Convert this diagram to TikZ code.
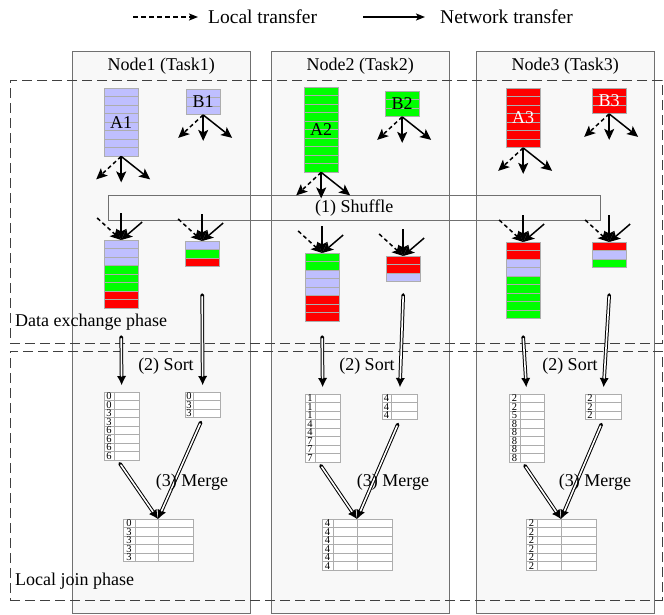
\documentclass[tikz,border=0pt]{standalone}
\usepackage{fontspec}
\setmainfont{Liberation Serif}
\usetikzlibrary{arrows.meta, positioning, calc}
\definecolor{lav}{HTML}{BFBFFF}
\definecolor{grn}{HTML}{00FF00}
\definecolor{rd}{HTML}{FF0000}
\definecolor{colbg}{HTML}{F8F8F8}
\definecolor{colline}{HTML}{707070}
\definecolor{cellline}{HTML}{ADADAD}
\newcommand\cellstack[5]{%
  \foreach \col [count=\i from 0] in {#5}
    \draw[cell, fill=\col] (#2,#3+8.5*\i) rectangle ++(34,8.5);
  \node[stackbox, minimum height=#4*8.5pt, anchor=north west] (#1) at (#2,#3) {};}
\newcommand\keytable[7]{%
  \foreach \kv [count=\i from 0] in {#7} {
    \draw[cell, fill=white] (#2,#3+8.5*\i) rectangle ++(#5,8.5);
    \draw[cell] (#2+#4,#3+8.5*\i) -- ++(0,8.5);
    \node[keytext] (#1-k\i) at (#2+#4/2,#3+8.5*\i+4.25) {\kv};}
  \node[stackbox, minimum width=#5pt, minimum height=#6*8.5pt, anchor=north west] (#1) at (#2,#3) {};}
\begin{document}
\begin{tikzpicture}[x=1pt, y=-1pt, >={Stealth[length=11pt, width=10pt, inset=2.5pt]},
  column/.style={draw=colline, fill=colbg, inner sep=0, anchor=north west, minimum width=178pt, minimum height=562pt},
  phase/.style={draw=black!75, dash pattern=on 10pt off 5pt, inner sep=0, anchor=north west, minimum width=652pt},
  txt/.style={font=\fontsize{18}{20}\selectfont, inner sep=0},
  legtxt/.style={font=\fontsize{19.5}{22}\selectfont, inner sep=0, anchor=west},
  cell/.style={draw=cellline, line width=0.6pt},
  stackbox/.style={inner sep=0, minimum width=34pt},
  keytext/.style={font=\fontsize{10.5}{10.5}\selectfont, inner sep=0},
  move/.style={->, line width=1.5pt},
  local/.style={move, dash pattern=on 4pt off 3pt},
  legarrow/.style={-{Stealth[length=9pt, width=7pt, inset=2pt]}, line width=1.4pt},
  dbl/.style 2 args={-{Latex[length=9pt, width=9pt, line width=0pt]}, line width=3.6pt, line cap=round,
    shorten <=#1, shorten >=#2, postaction={draw=white, line width=1.6pt, -, shorten <=#1+1.6pt, shorten >=#2+9pt}},
  shufflebox/.style={draw=colline, inner sep=0, anchor=north west, minimum width=492pt, minimum height=25pt, font=\fontsize{18}{20}\selectfont}]
\useasboundingbox (0,0) rectangle (664,615);
\node[legtxt] (loclabel) at (208,17) {Local transfer};
\node[legtxt] (netlabel) at (440,17) {Network transfer};
\draw[legarrow, dash pattern=on 4.5pt off 3.5pt] ([xshift=-75pt]loclabel.west) -- ([xshift=-10pt]loclabel.west);
\draw[legarrow] ([xshift=-77pt]netlabel.west) -- ([xshift=-15pt]netlabel.west);
\node[column] (col1) at (72,51) {};
\node[column] (col2) at (271,51) {};
\node[column] (col3) at (476,51) {};
\node[txt] (title1) at ($(col1.north)+(0,15)$) {Node1 (Task1)};
\node[txt] (title2) at ($(col2.north)+(0,15)$) {Node2 (Task2)};
\node[txt] (title3) at ($(col3.north)+(0,15)$) {Node3 (Task3)};
\node[shufflebox] (shuffle) at (108,195) {(1) Shuffle};
\node[phase, minimum height=263pt] (exchange) at (10,80) {};
\node[phase, minimum height=249pt] (localjoin) at (10,351) {};
\node[txt, anchor=south west] (exchlabel) at ($(exchange.south west)+(5,-13)$) {Data exchange phase};
\node[txt, anchor=south west] (joinlabel) at ($(localjoin.south west)+(5,-11)$) {Local join phase};
\cellstack{a1}{104}{88}{8}{lav,lav,lav,lav,lav,lav,lav,lav}
\cellstack{b1}{186}{89}{3}{lav,lav,lav}
\cellstack{a2}{304}{87}{10}{grn,grn,grn,grn,grn,grn,grn,grn,grn,grn}
\cellstack{b2}{385}{91}{3}{grn,grn,grn}
\cellstack{a3}{506}{88}{7}{rd,rd,rd,rd,rd,rd,rd}
\cellstack{b3}{592}{88}{3}{rd,rd,rd}
\node[txt] (a1text) at (a1) {A1};
\node[txt] (b1text) at (b1) {B1};
\node[txt] (a2text) at (a2) {A2};
\node[txt] (b2text) at (b2) {B2};
\node[txt, white] (a3text) at (a3) {A3};
\node[txt, white] (b3text) at (b3) {B3};
\foreach \n in {a1,b1,a2,b2,a3,b3} {
  \draw[local] (\n.south) -- ++(-25,23);
  \draw[move] (\n.south) -- ++(0,26);
  \draw[move] (\n.south) -- ++(29,23);}
\cellstack{s1a}{104}{240}{8}{lav,lav,lav,grn,grn,grn,rd,rd}
\cellstack{s1b}{185}{241}{3}{lav,grn,rd}
\cellstack{s2a}{305}{253}{8}{grn,grn,lav,lav,lav,rd,rd,rd}
\cellstack{s2b}{386}{256}{3}{rd,rd,lav}
\cellstack{s3a}{506}{242}{9}{rd,rd,lav,lav,grn,grn,grn,grn,grn}
\cellstack{s3b}{592}{242}{3}{rd,lav,grn}
\foreach \n in {s1a,s1b,s2a,s2b,s3a,s3b} {
  \draw[local] ([shift={(-24,-22)}]\n.north) -- (\n.north);
  \draw[move] ([shift={(0,-27)}]\n.north) -- (\n.north);
  \draw[move] ([shift={(21,-18)}]\n.north) -- (\n.north);}
\keytable{t1a}{104}{392}{10}{35}{8}{0,0,3,3,6,6,6,6}
\keytable{t1b}{185}{392}{8}{35}{3}{0,3,3}
\keytable{t2a}{305}{394}{10}{35}{8}{1,1,1,4,4,7,7,7}
\keytable{t2b}{382}{394}{9}{35}{3}{4,4,4}
\keytable{t3a}{509}{394}{11}{35}{8}{2,2,5,8,8,8,8,8}
\keytable{t3b}{585}{394}{10}{36}{3}{2,2,2}
\keytable{m1}{123}{519}{12}{70}{5}{0,3,3,3,3}
\keytable{m2}{322}{519}{11}{70}{6}{4,4,4,4,4,4}
\keytable{m3}{526}{519}{11}{70}{6}{2,2,2,2,2,2}
\foreach \m in {m1,m2,m3}
  \draw[cell] ([xshift=35pt]\m.north west) -- ([xshift=35pt]\m.south west);
\coordinate (sortstart) at (0,337);
\coordinate (sortstartb) at (0,295);
\draw[dbl={0pt}{7pt}] (s1a.south |- sortstart) -- (t1a.north);
\draw[dbl={0pt}{7pt}] (s1b.south |- sortstartb) -- (t1b.north);
\draw[dbl={0pt}{7pt}] (s2a.south |- sortstart) -- (t2a.north);
\draw[dbl={0pt}{7pt}] (s2b.south |- sortstartb) -- (t2b.north);
\draw[dbl={0pt}{7pt}] (s3a.south |- sortstart) -- (t3a.north);
\draw[dbl={0pt}{7pt}] (s3b.south |- sortstartb) -- (t3b.north);
\node[txt] (sort1) at (166,366) {(2) Sort};
\node[txt] (sort2) at (367,366) {(2) Sort};
\node[txt] (sort3) at (570,366) {(2) Sort};
\foreach \t/\m in {1/m1,2/m2,3/m3} {
  \coordinate (\m tip) at ([xshift=35pt]\m.north west);
  \draw[dbl={4pt}{0pt}] ([xshift=-4pt]t\t a.south) -- (\m tip);
  \draw[dbl={5pt}{0pt}] (t\t b.south) -- (\m tip);}
\node[txt] (merge1) at (192,482) {(3) Merge};
\node[txt] (merge2) at (393,482) {(3) Merge};
\node[txt] (merge3) at (595,482) {(3) Merge};
\end{tikzpicture}
\end{document}
